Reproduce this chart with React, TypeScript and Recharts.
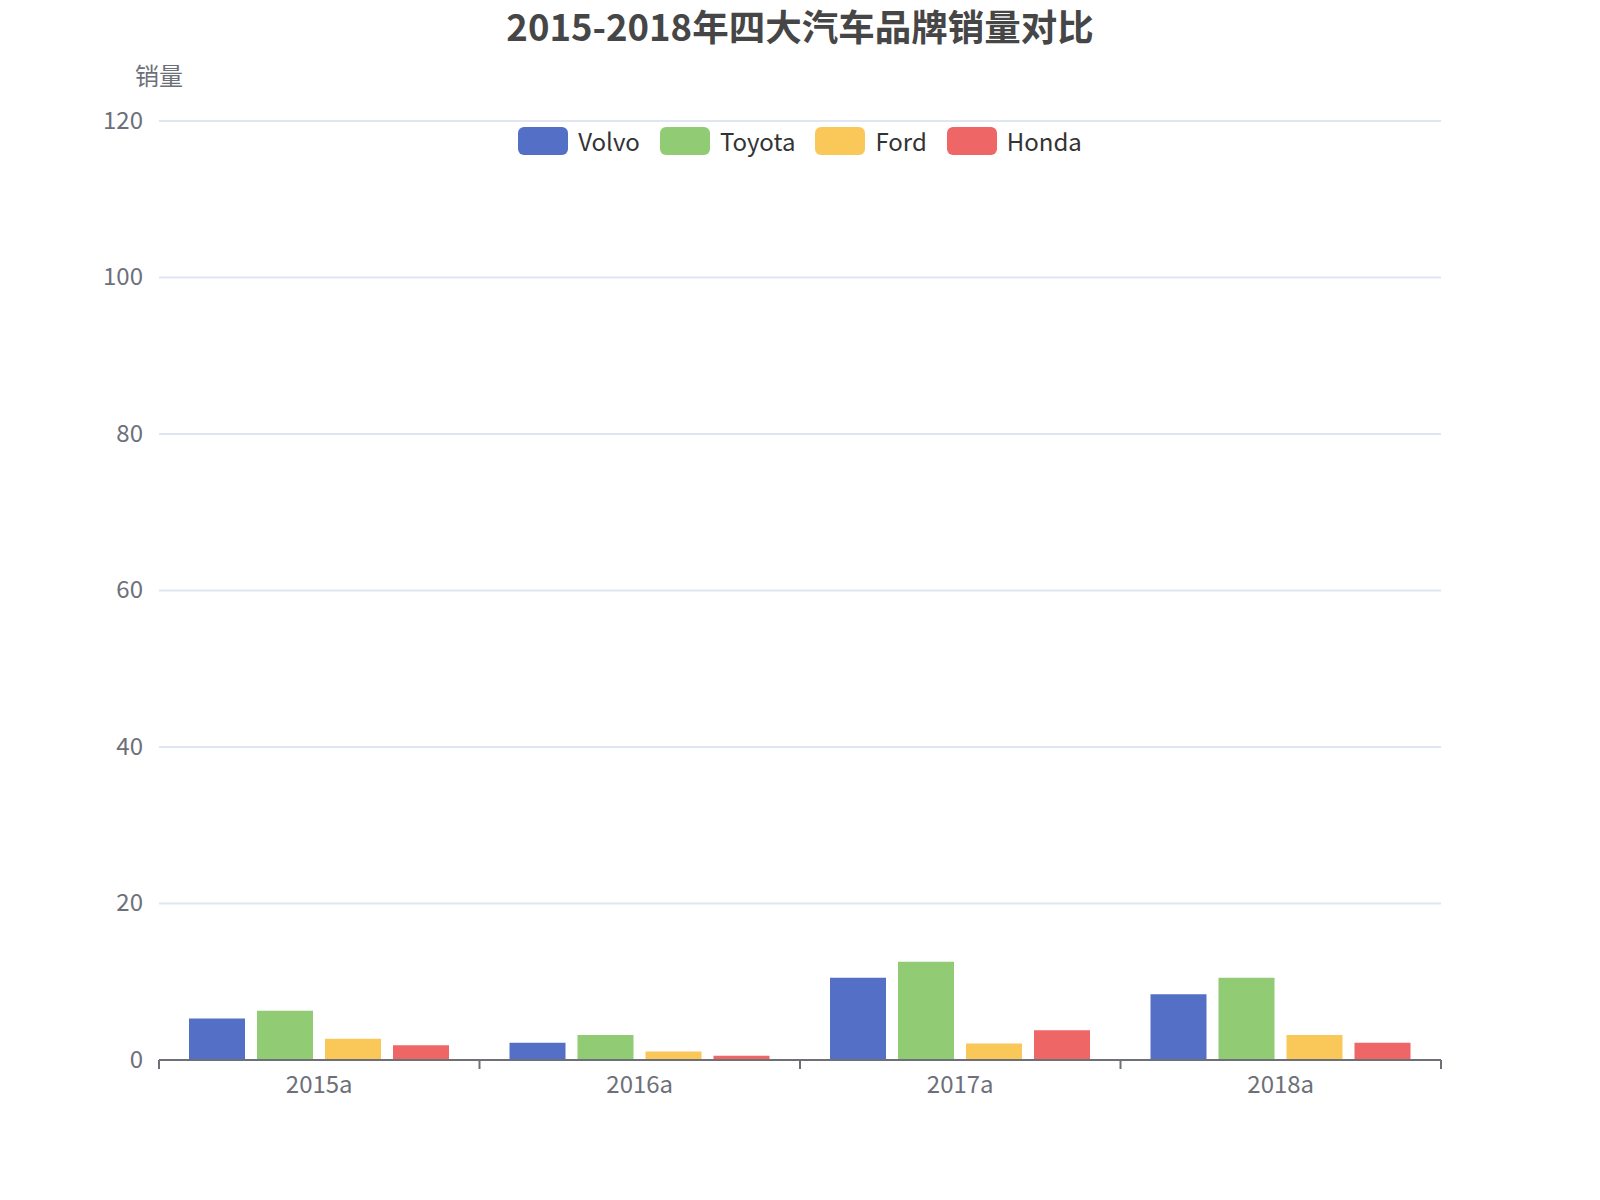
import React from 'react';
import { BarChart, Bar, XAxis, YAxis, CartesianGrid } from 'recharts';

const categories = ['2015a', '2016a', '2017a', '2018a'];
const volvo = [5.3, 2.2, 10.5, 8.4];
const toyota = [6.3, 3.2, 12.55, 10.5];
const ford = [2.7, 1.1, 2.1, 3.2];
const honda = [1.9, 0.55, 3.8, 2.2];
const yTicks = [0, 20, 40, 60, 80, 100, 120];

const series = [
  { key: 'Volvo', values: volvo, color: '#5470c6' },
  { key: 'Toyota', values: toyota, color: '#91cc75' },
  { key: 'Ford', values: ford, color: '#fac858' },
  { key: 'Honda', values: honda, color: '#ee6666' },
];

const data = categories.map((name, i) => {
  const row: Record<string, string | number> = { name };
  series.forEach((s) => {
    row[s.key] = s.values[i];
  });
  return row;
});

const W = 1600;
const H = 1200;
const MARGIN = { top: 121, right: 159, bottom: 80, left: 99 };
const Y_AXIS_W = 60;
const BAND = (W - MARGIN.left - Y_AXIS_W - MARGIN.right) / categories.length;
const FONT = '"Noto Sans CJK SC", "Noto Sans", sans-serif';
const AXIS_COLOR = '#6E7079';

function CategoryTick(props: any) {
  const { x, y, payload, index } = props;
  const half = BAND / 2;
  return (
    <g>
      <line x1={x - half} y1={y} x2={x - half} y2={y + 9} stroke={AXIS_COLOR} strokeWidth={2} />
      {index === categories.length - 1 && (
        <line x1={x + half} y1={y} x2={x + half} y2={y + 9} stroke={AXIS_COLOR} strokeWidth={2} />
      )}
      <text
        x={x}
        y={y + 22}
        textAnchor="middle"
        dominantBaseline="central"
        fill={AXIS_COLOR}
        fontSize={24}
        fontFamily={FONT}
      >
        {payload.value}
      </text>
    </g>
  );
}

function ValueTick(props: any) {
  const { x, y, payload } = props;
  return (
    <text
      x={x}
      y={y - 3}
      textAnchor="end"
      dominantBaseline="central"
      fill={AXIS_COLOR}
      fontSize={24}
      fontFamily={FONT}
    >
      {payload.value}
    </text>
  );
}

function LegendRow() {
  return (
    <div
      style={{
        position: 'absolute',
        top: 127,
        left: 0,
        width: W,
        display: 'flex',
        justifyContent: 'center',
        gap: 20,
        fontFamily: FONT,
        fontSize: 24,
        color: '#333',
        lineHeight: '28px',
      }}
    >
      {series.map((s) => (
        <div key={s.key} style={{ display: 'flex', alignItems: 'center', gap: 10 }}>
          <span style={{ width: 50, height: 28, borderRadius: 6, background: s.color, display: 'inline-block' }} />
          <span>{s.key}</span>
        </div>
      ))}
    </div>
  );
}

export default function App() {
  return (
    <div style={{ position: 'absolute', left: 0, top: 0, width: W, height: H, background: '#fff' }}>
      <BarChart width={W} height={H} data={data} margin={MARGIN} barGap={12} barSize={56}>
        <CartesianGrid vertical={false} stroke="#E0E6F1" strokeWidth={2} />
        <XAxis
          dataKey="name"
          interval={0}
          height={60}
          tickSize={0}
          tickMargin={0}
          tickLine={false}
          axisLine={{ stroke: AXIS_COLOR, strokeWidth: 2 }}
          tick={<CategoryTick />}
        />
        <YAxis
          width={Y_AXIS_W}
          domain={[0, 120]}
          ticks={yTicks}
          axisLine={false}
          tickLine={false}
          tickSize={0}
          tickMargin={16}
          tick={<ValueTick />}
        />
        {series.map((s) => (
          <Bar key={s.key} dataKey={s.key} fill={s.color} isAnimationActive={false} />
        ))}
      </BarChart>
      <div
        style={{
          position: 'absolute',
          top: 6,
          left: 0,
          width: W,
          textAlign: 'center',
          fontFamily: FONT,
          fontSize: 36.5,
          fontWeight: 700,
          color: '#464646',
          lineHeight: '40px',
        }}
      >
        2015-2018年四大汽车品牌销量对比
      </div>
      <div
        style={{
          position: 'absolute',
          top: 60,
          left: 159 - 60,
          width: 120,
          textAlign: 'center',
          fontFamily: FONT,
          fontSize: 24,
          color: AXIS_COLOR,
          lineHeight: '30px',
        }}
      >
        销量
      </div>
      <LegendRow />
    </div>
  );
}
